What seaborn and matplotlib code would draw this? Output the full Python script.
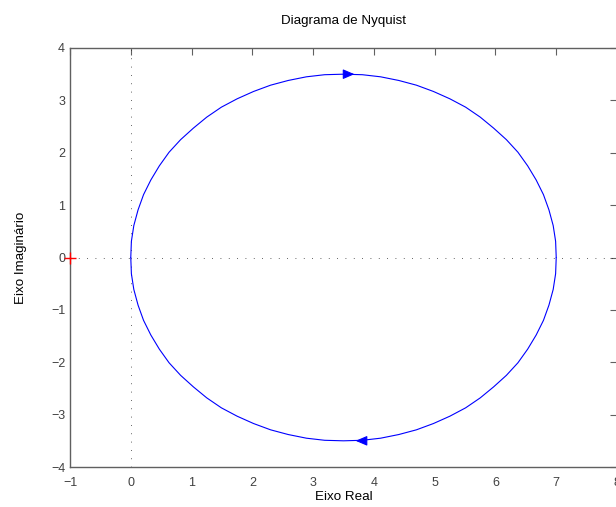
import matplotlib
matplotlib.use("Agg")
import matplotlib.pyplot as plt
import seaborn as sns
import pandas as pd

# --- dados ---
# ramo de frequencias positivas (metade inferior), de w=0 ate w->inf
re_pos = [7.00, 6.99, 6.95, 6.88, 6.79, 6.67, 6.53, 6.37, 6.18, 5.97, 5.75, 5.51,
          5.25, 4.98, 4.70, 4.41, 4.11, 3.81, 3.50, 3.19, 2.89, 2.59, 2.30, 2.02,
          1.75, 1.49, 1.25, 1.03, 0.82, 0.63, 0.47, 0.33, 0.21, 0.12, 0.05, 0.01, 0.00]
im_pos = [0.00, -0.31, -0.61, -0.91, -1.20, -1.48, -1.75, -2.01, -2.25, -2.47, -2.68, -2.87,
          -3.03, -3.17, -3.29, -3.38, -3.45, -3.49, -3.50, -3.49, -3.45, -3.38, -3.29, -3.17,
          -3.03, -2.87, -2.68, -2.47, -2.25, -2.01, -1.75, -1.48, -1.20, -0.91, -0.61, -0.31, 0.00]

# setas: (base, ponta)
arrow_base_re = [3.52, 3.86]
arrow_tip_re = [3.68, 3.70]
arrow_im = [3.50, -3.50]

critical_point = (-1, 0)
x_ticks = [-1, 0, 1, 2, 3, 4, 5, 6, 7, 8]
y_ticks = [-4, -3, -2, -1, 0, 1, 2, 3, 4]

sns.set_style("white")
plt.rcParams['font.family'] = ['Liberation Sans', 'DejaVu Sans']
TXT = "#404040"
AX = "#606060"

df_pos = pd.DataFrame({"re": re_pos, "im": im_pos})
df_neg = pd.DataFrame({"re": re_pos[::-1], "im": [-v for v in im_pos[::-1]]})

fig = plt.figure(figsize=(6.16, 5.07), dpi=100)
ax = fig.add_axes([70 / 616, 40 / 507, 547 / 616, 419 / 507])

# linhas de referencia pontilhadas
ax.axhline(0, color="#303030", lw=0.6, ls=(0, (1, 9)), zorder=1)
ax.axvline(0, color="#303030", lw=0.6, ls=(0, (1, 9)), zorder=1)

sns.lineplot(data=df_pos, x="re", y="im", sort=False, estimator=None, color="#0000ff", lw=0.8, ax=ax)
sns.lineplot(data=df_neg, x="re", y="im", sort=False, estimator=None, color="#0000ff", lw=0.8, ax=ax)

for b, t, y in zip(arrow_base_re, arrow_tip_re, arrow_im):
    ax.annotate("", xy=(t, y), xytext=(b, y),
                arrowprops=dict(arrowstyle="-|>,head_length=0.7,head_width=0.3",
                                color="#0000ff", lw=0.8, shrinkA=0, shrinkB=0))

ax.plot(*critical_point, marker="+", color="red", markersize=8, mew=1, clip_on=False, zorder=5)

ax.set_xlim(-1, 8)
ax.set_ylim(-4, 4)
ax.set_xticks(x_ticks)
ax.set_yticks(y_ticks)
ax.tick_params(direction="in", length=5, width=0.8, color=AX, labelcolor=TXT, labelsize=9,
               top=True, right=True)
ax.tick_params(axis="x", pad=7.5)
ax.tick_params(axis="y", pad=3.5)
for s in ax.spines.values():
    s.set_color(AX)
    s.set_linewidth(1.0)

ax.set_title("Diagrama de Nyquist", fontsize=9.6, color="black", pad=17)
ax.set_xlabel("Eixo Real", fontsize=9.6, color="black", labelpad=1)
ax.set_ylabel("Eixo Imaginário", fontsize=9.6, color="black", labelpad=17)

fig.savefig("out.png", dpi=100)
